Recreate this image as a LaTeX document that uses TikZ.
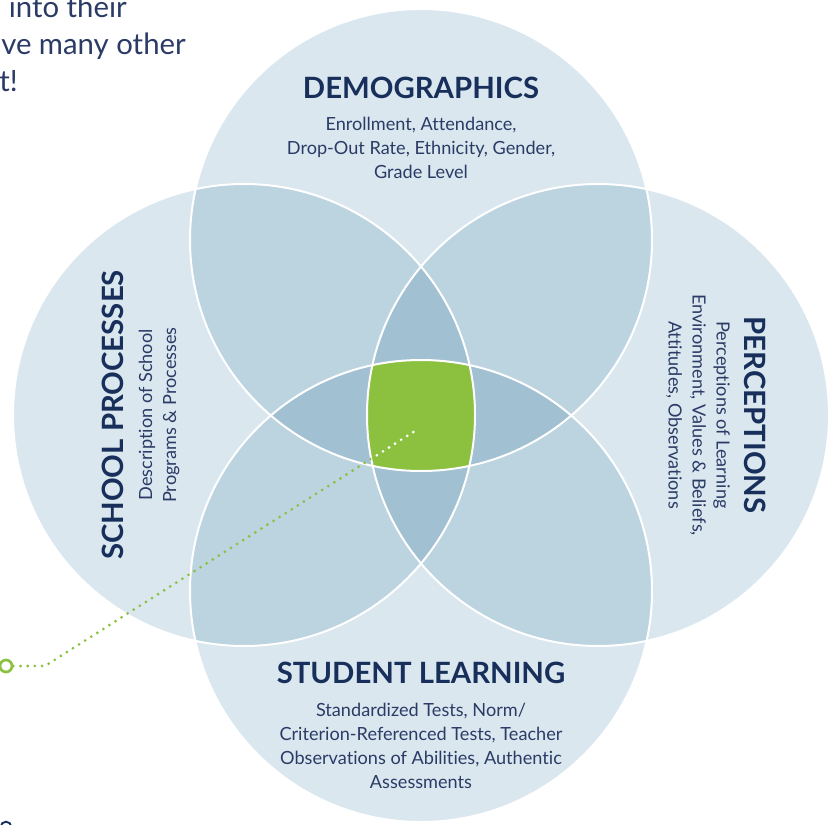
\documentclass[tikz,border=0pt]{standalone}
\usepackage{fontspec}
\setmainfont{Lato}[Ligatures=CommonOff]
\definecolor{cA}{HTML}{DAE7EF}
\definecolor{cB}{HTML}{BCD3E0}
\definecolor{cC}{HTML}{A1C0D2}
\definecolor{cG}{HTML}{8BC13F}
\definecolor{navy}{HTML}{172F5A}
\definecolor{bodyc}{HTML}{2B3B66}
\newcommand\cc[1]{(#1) circle[radius=173.25pt]}
\begin{document}
\begin{tikzpicture}[x=0.75pt,y=-0.75pt,
  title/.style={font=\fontsize{22}{24}\selectfont\bfseries, text=navy, inner sep=0pt},
  body/.style={font=\fontsize{13.6}{18}\selectfont, text=bodyc, align=center, inner sep=0pt},
  intro/.style={font=\fontsize{22}{27}\selectfont, text=bodyc, inner sep=0pt, anchor=base east},
  dots/.style={line width=2.3pt, line cap=round, dash pattern=on 0pt off 5.4pt}]
\useasboundingbox (0,0) rectangle (838,824);
\coordinate (T) at (421,240);
\coordinate (B) at (421,591);
\coordinate (L) at (244,415);
\coordinate (R) at (598,415);
% single
\foreach \c in {T,B,L,R} \fill[cA] \cc{\c};
% pairs
\foreach \a/\b in {T/L,T/R,T/B,L/B,R/B,L/R}{
  \begin{scope}\clip \cc{\a}; \fill[cB] \cc{\b};\end{scope}}
% triples
\foreach \a/\b/\d in {T/L/R,T/L/B,T/R/B,L/R/B}{
  \begin{scope}\clip \cc{\a}; \clip \cc{\b}; \fill[cC] \cc{\d};\end{scope}}
% quad
\begin{scope}\clip \cc{T}; \clip \cc{B}; \clip \cc{L}; \fill[cG] \cc{R};\end{scope}
% outlines
\foreach \c in {T,B,L,R} \draw[white, line width=1.5pt] \cc{\c};
% intro text
\node[intro] (i1) at (127,18) {into their};
\node[intro] (i2) at (186,55) {ve many other};
\node[intro] (i3) at (18,92) {t!};
% labels
\node[title] (demo) at (421,88) {DEMOGRAPHICS};
\node[body] (demob) at (421,148) {Enrollment, Attendance,\\Drop-Out Rate, Ethnicity, Gender,\\Grade Level};
\node[title] (stud) at (421,673) {STUDENT LEARNING};
\node[body] (studb) at (421,746) {Standardized Tests, Norm/\\Criterion-Referenced Tests, Teacher\\Observations of Abilities, Authentic\\Assessments};
\node[title, rotate=90] (sch) at (113,415) {SCHOOL PROCESSES};
\node[body, rotate=90] (schb) at (159,415) {Description of School\\Programs \& Processes};
\node[title, rotate=-90] (perc) at (755,415) {PERCEPTIONS};
\node[body, rotate=-90] (percb) at (698,415) {Perceptions of Learning\\Environment, Values \& Beliefs,\\Attitudes, Observations};
% pointer
\node[circle, draw=cG, line width=2pt, minimum size=9pt, inner sep=0pt] (mk) at (6,666) {};
\coordinate (bend) at (45,666);
\coordinate (tip) at (415,431);
\draw[dots, cG] (mk.east) -- (bend) -- (tip);
\begin{scope}\clip \cc{T}; \clip \cc{B}; \clip \cc{L}; \clip \cc{R};
\draw[dots, white] (mk.east) -- (bend) -- (tip);
\end{scope}
\node[circle, draw=navy, line width=1.4pt, minimum size=8pt, inner sep=0pt] (nx) at (6,827) {};
\end{tikzpicture}
\end{document}
